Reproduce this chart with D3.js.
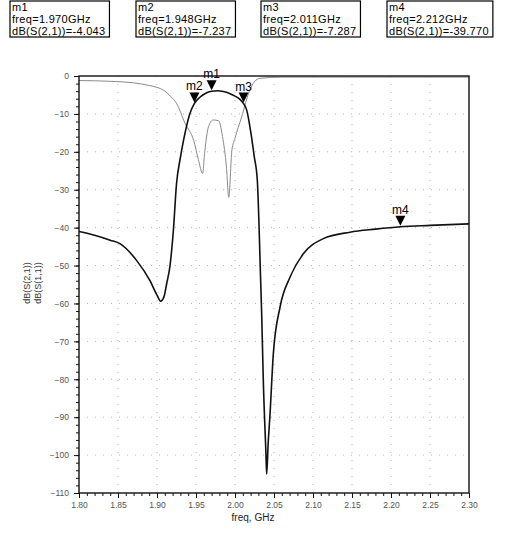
<!DOCTYPE html>
<html>
<head>
<meta charset="utf-8">
<script src="https://cdn.jsdelivr.net/npm/d3@7"></script>
<style>
  body { margin: 0; background: #fff; }
  text { font-family: "Liberation Sans", Arial, sans-serif; }
</style>
</head>
<body>
<svg id="chart"></svg>
<script>
// values
const s21Freq = [1.800, 1.820, 1.840, 1.853, 1.874, 1.891, 1.900, 1.9047, 1.909, 1.9124, 1.9167, 1.921, 1.925, 1.930,
                 1.934, 1.942, 1.948, 1.955, 1.962, 1.970, 1.978, 1.985, 1.993, 2.000, 2.006, 2.011, 2.015, 2.020,
                 2.0245, 2.0286, 2.0329, 2.0342, 2.0363, 2.0397, 2.0406, 2.0425, 2.0449, 2.0491, 2.0577, 2.0705,
                 2.0876, 2.1132, 2.1474, 2.180, 2.212, 2.250, 2.300];
const s21Val  = [-41.0, -42.0, -43.3, -44.3, -48.7, -54.0, -57.8, -59.4, -58.2, -54.8, -50.0, -40.7, -28.5, -21.5,
                 -17.0, -10.0, -7.237, -5.6, -4.6, -4.043, -3.9, -4.1, -4.6, -5.3, -6.1, -7.287, -9.0, -14.5,
                 -21.0, -27.5, -54.0, -62.8, -80.4, -99.8, -105.0, -97.0, -89.2, -73.4, -61.0, -53.1,
                 -46.9, -42.9, -41.2, -40.4, -39.77, -39.4, -39.0];

const s11Freq = [1.800, 1.840, 1.870, 1.890, 1.900, 1.908, 1.918, 1.925, 1.936, 1.947, 1.953, 1.9585, 1.961, 1.966,
                 1.972, 1.979, 1.984, 1.989, 1.992, 1.996, 2.000, 2.0085, 2.019, 2.025, 2.032, 2.060, 2.300];
const s11Val  = [-1.2, -1.4, -1.8, -2.5, -3.0, -3.7, -5.5, -7.2, -12.5, -17.0, -22.0, -25.7, -20.4, -13.4,
                 -11.6, -11.8, -16.0, -24.0, -32.0, -19.6, -16.4, -10.8, -3.7, -1.5, -0.6, -0.3, -0.3];

const markerNames = ['m1', 'm2', 'm3', 'm4'];
const markerFreqs = [1.970, 1.948, 2.011, 2.212];
const markerVals  = [-4.043, -7.237, -7.287, -39.770];

const xTicks = [1.80, 1.85, 1.90, 1.95, 2.00, 2.05, 2.10, 2.15, 2.20, 2.25, 2.30];
const yTicks = [0, -10, -20, -30, -40, -50, -60, -70, -80, -90, -100, -110];

const width = 511;
const height = 537;
const plotLeft = 79, plotRight = 469, plotTop = 76, plotBottom = 493;
const boxX = [10, 136, 261, 387];

const svg = d3.select('#chart').attr('width', width).attr('height', height);

const x = d3.scaleLinear().domain([1.80, 2.30]).range([plotLeft, plotRight]);
const y = d3.scaleLinear().domain([-110, 0]).range([plotBottom, plotTop]);

// sparse dotted grid
const grid = svg.append('g').attr('stroke', '#b5b5b5').attr('stroke-width', 1).attr('stroke-dasharray', '1,7');
grid.selectAll('.gy').data(yTicks.slice(1, -1)).enter().append('line')
    .attr('x1', plotLeft).attr('x2', plotRight)
    .attr('y1', d => y(d)).attr('y2', d => y(d));
grid.selectAll('.gx').data(xTicks.slice(1, -1)).enter().append('line')
    .attr('y1', plotTop).attr('y2', plotBottom)
    .attr('x1', d => x(d)).attr('x2', d => x(d));

// axes with minor ticks
const xMinor = d3.range(1.80, 2.3001, 0.01);
const yMinor = d3.range(-110, 0.001, 2);

const xAxisMinor = svg.append('g').attr('transform', `translate(0, ${plotBottom})`)
    .call(d3.axisBottom(x).tickValues(xMinor).tickSize(3).tickFormat(''));
const xAxis = svg.append('g').attr('transform', `translate(0, ${plotBottom})`)
    .call(d3.axisBottom(x).tickValues(xTicks).tickSize(5).tickPadding(4).tickFormat(d3.format('.2f')));
const yAxisMinor = svg.append('g').attr('transform', `translate(${plotLeft}, 0)`)
    .call(d3.axisLeft(y).tickValues(yMinor).tickSize(3).tickFormat(''));
const yAxis = svg.append('g').attr('transform', `translate(${plotLeft}, 0)`)
    .call(d3.axisLeft(y).tickValues(yTicks).tickSize(5).tickPadding(5).tickFormat(d3.format('d')));

[xAxisMinor, xAxis, yAxisMinor, yAxis].forEach(a => a.select('.domain').remove());
svg.selectAll('.tick line').attr('stroke', '#111');
svg.selectAll('.tick text').attr('font-size', 8.5).attr('fill', '#555')
    .style('font-family', '"Liberation Sans", Arial, sans-serif');

// curves
const line = d3.line().x(d => x(d[0])).y(d => y(d[1])).curve(d3.curveMonotoneX);

svg.append('path')
    .datum(s11Freq.map((f, i) => [f, s11Val[i]]))
    .attr('d', line)
    .attr('fill', 'none')
    .attr('stroke', '#8a8a8a')
    .attr('stroke-width', 1);

svg.append('path')
    .datum(s21Freq.map((f, i) => [f, s21Val[i]]))
    .attr('d', line)
    .attr('fill', 'none')
    .attr('stroke', '#111')
    .attr('stroke-width', 1.6);

// frame
svg.append('rect')
    .attr('x', plotLeft).attr('y', plotTop)
    .attr('width', plotRight - plotLeft).attr('height', plotBottom - plotTop)
    .attr('fill', 'none').attr('stroke', '#111').attr('stroke-width', 1.4);

// markers on the S21 curve
const markers = svg.append('g');
markerNames.forEach(function(name, i) {
    const px = x(markerFreqs[i]);
    const py = y(markerVals[i]);
    markers.append('path')
        .attr('d', `M${px - 5},${py - 11}L${px + 5},${py - 11}L${px},${py - 1}Z`)
        .attr('fill', '#000');
    markers.append('text')
        .attr('x', px).attr('y', py - 13)
        .attr('text-anchor', 'middle')
        .attr('font-size', 12)
        .text(name);
});

// marker readout boxes
markerNames.forEach(function(name, i) {
    const g = svg.append('g').attr('transform', `translate(${boxX[i]}, 1)`);
    const rows = [name, `freq=${markerFreqs[i].toFixed(3)}GHz`, `dB(S(2,1))=${markerVals[i].toFixed(3)}`];
    const txt = g.selectAll('text').data(rows).enter().append('text')
        .attr('x', 2)
        .attr('y', (d, j) => 10 + j * 12)
        .attr('font-size', 11)
        .attr('letter-spacing', 0.3)
        .attr('fill', '#000')
        .text(d => d);
    const w = d3.max(txt.nodes(), n => n.getComputedTextLength()) + 6;
    g.insert('rect', 'text')
        .attr('width', w).attr('height', 36)
        .attr('fill', '#fff').attr('stroke', '#000').attr('stroke-width', 1.2);
});

// axis titles
svg.append('text')
    .attr('transform', 'translate(30, 283) rotate(-90)')
    .attr('text-anchor', 'middle')
    .attr('font-size', 9)
    .attr('fill', '#333')
    .selectAll('tspan').data(['dB(S(2,1))', 'dB(S(1,1))']).enter().append('tspan')
    .attr('x', 0).attr('dy', (d, i) => i === 0 ? 0 : 10.5)
    .text(d => d);

svg.append('text')
    .attr('x', 253).attr('y', 521)
    .attr('text-anchor', 'middle')
    .attr('font-size', 10)
    .attr('fill', '#222')
    .text('freq, GHz');
</script>
</body>
</html>
